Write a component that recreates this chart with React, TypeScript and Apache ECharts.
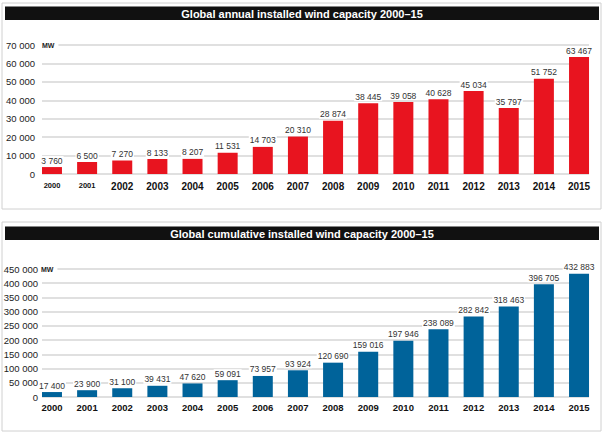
import React, { useEffect, useRef } from "react";
import * as echarts from "echarts";

const years = ["2000","2001","2002","2003","2004","2005","2006","2007","2008","2009","2010","2011","2012","2013","2014","2015"];
const annual = [3760, 6500, 7270, 8133, 8207, 11531, 14703, 20310, 28874, 38445, 39058, 40628, 45034, 35797, 51752, 63467];
const cumulative = [17400, 23900, 31100, 39431, 47620, 59091, 73957, 93924, 120690, 159016, 197946, 238089, 282842, 318463, 396705, 432883];
const smallYears = ["2000", "2001"];
const title1 = "Global annual installed wind capacity 2000–15";
const title2 = "Global cumulative installed wind capacity 2000–15";

const FONT = "'Liberation Sans', Arial, sans-serif";
const fmt = (v: number) => String(Math.round(v)).replace(/\B(?=(\d{3})+(?!\d))/g, " ");

export default function App() {
  const ref = useRef<HTMLDivElement>(null);
  useEffect(() => {
    document.body.style.margin = "0";
    const chart = echarts.init(ref.current!, null, { renderer: "svg" });
    const gridLineStyle = { color: "#d6d6d6", width: 1.6 };
    const yLabel = { fontFamily: FONT, fontSize: 9.5, color: "#222" };
    const dataLabel = () => ({
      show: true,
      position: "top",
      distance: 2,
      fontFamily: FONT,
      fontSize: 8.5,
      color: "#333",
      backgroundColor: "#fff",
      padding: [0, 1],
      formatter: (p: any) => fmt(p.value),
    });
    const xLab = { fontFamily: FONT, fontWeight: "bold", color: "#111" };
    chart.setOption({
      animation: false,
      grid: [
        { left: 42, right: 15, top: 45, bottom: 260 },
        { left: 34.4, right: 7.4, top: 45, bottom: 260 },
        { left: 42, right: 15, top: 269, bottom: 37 },
        { left: 34.4, right: 7.4, top: 269, bottom: 37 },
      ],
      xAxis: [
        { type: "category", gridIndex: 0, data: years, show: false },
        {
          type: "category", gridIndex: 1, data: years,
          axisLine: { show: false }, axisTick: { show: false },
          axisLabel: {
            ...xLab, fontSize: 10, margin: 7, interval: 0,
            formatter: (v: string) => (smallYears.includes(v) ? `{s|${v}}` : v),
            rich: { s: { ...xLab, fontSize: 7.5 } },
          },
        },
        { type: "category", gridIndex: 2, data: years, show: false },
        {
          type: "category", gridIndex: 3, data: years,
          axisLine: { show: false }, axisTick: { show: false },
          axisLabel: { ...xLab, fontSize: 9.5, margin: 5, interval: 0 },
        },
      ],
      yAxis: [
        {
          type: "value", gridIndex: 0, min: 0, max: 70000, interval: 10000,
          axisLine: { show: false }, axisTick: { show: false },
          splitLine: { lineStyle: gridLineStyle },
          axisLabel: { ...yLabel, margin: 7, formatter: fmt },
        },
        { type: "value", gridIndex: 1, min: 0, max: 70000, interval: 10000, show: false, splitLine: { show: false } },
        {
          type: "value", gridIndex: 2, min: 0, max: 450000, interval: 50000,
          axisLine: { show: false }, axisTick: { show: false },
          splitLine: { lineStyle: gridLineStyle },
          axisLabel: { ...yLabel, margin: 4, formatter: fmt },
        },
        { type: "value", gridIndex: 3, min: 0, max: 450000, interval: 50000, show: false, splitLine: { show: false } },
      ],
      series: [
        {
          type: "bar", xAxisIndex: 1, yAxisIndex: 1, data: annual, barWidth: 20,
          itemStyle: { color: "#e8141f" }, label: dataLabel(),
        },
        {
          type: "bar", xAxisIndex: 3, yAxisIndex: 3, data: cumulative, barWidth: 20,
          itemStyle: { color: "#00639a" }, label: dataLabel(),
        },
      ],
      graphic: [
        { type: "rect", shape: { x: 2, y: 3, width: 599, height: 206 }, style: { fill: "none", stroke: "#d0d0d0", lineWidth: 1 }, z: -1 },
        { type: "rect", shape: { x: 5, y: 6.5, width: 594, height: 13.5 }, style: { fill: "#111" } },
        { type: "text", x: 302, y: 13.5, style: { text: title1, fill: "#fff", font: `bold 11px ${FONT}`, align: "center", verticalAlign: "middle" } },
        { type: "rect", shape: { x: 2, y: 222, width: 599, height: 209 }, style: { fill: "none", stroke: "#d0d0d0", lineWidth: 1 }, z: -1 },
        { type: "rect", shape: { x: 5, y: 226.5, width: 594, height: 13.5 }, style: { fill: "#111" } },
        { type: "text", x: 302, y: 233.5, style: { text: title2, fill: "#fff", font: `bold 11px ${FONT}`, align: "center", verticalAlign: "middle" } },
        { type: "text", x: 41, y: 45, z: 10, style: { text: "MW", fill: "#222", font: `bold 7px ${FONT}`, verticalAlign: "middle", backgroundColor: "#fff", padding: [1, 4, 1, 1] } },
        { type: "text", x: 40, y: 269, z: 10, style: { text: "MW", fill: "#222", font: `bold 7px ${FONT}`, verticalAlign: "middle", backgroundColor: "#fff", padding: [1, 4, 1, 1] } },
      ],
    });
    return () => chart.dispose();
  }, []);
  return <div ref={ref} style={{ position: "absolute", left: 0, top: 0, width: 604, height: 434 }} />;
}
